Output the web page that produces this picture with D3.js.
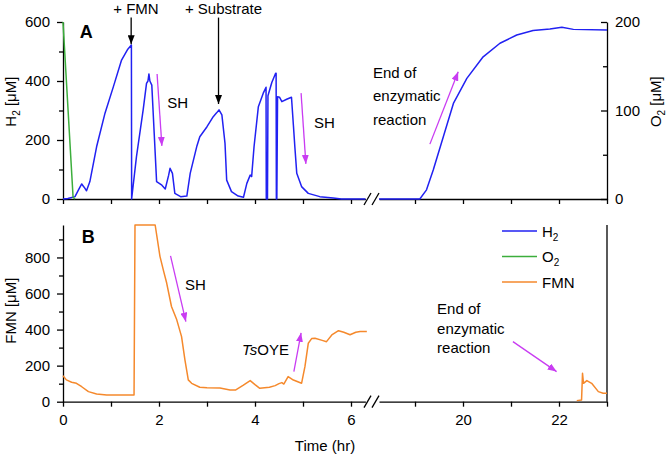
<!DOCTYPE html>
<html>
<head>
<meta charset="utf-8">
<script src="https://cdn.jsdelivr.net/npm/d3@7"></script>
<style>
  body { margin: 0; background: #fff; }
  text { font-family: "Liberation Sans", Arial, sans-serif; }
</style>
</head>
<body>
<svg id="chart" width="666" height="457"></svg>
<script>
// H2 in panel A, before and after the axis break (hr, µM)
const h2TimeLeft = [0, 0.1, 0.25, 0.32, 0.39, 0.44, 0.49, 0.56, 0.7, 0.875, 1.05, 1.22, 1.35, 1.425, 1.43,
  1.53, 1.67, 1.74, 1.77, 1.79, 1.81, 1.85, 1.9, 1.95, 2.06, 2.13, 2.2, 2.23, 2.28, 2.33, 2.45,
  2.58, 2.65, 2.79, 2.85, 3.0, 3.13, 3.2, 3.25, 3.31, 3.375, 3.41, 3.51, 3.65, 3.76,
  3.83, 3.9, 3.93, 3.98, 4.07, 4.17, 4.23, 4.235, 4.26, 4.27, 4.35, 4.43, 4.44, 4.445, 4.455, 4.47,
  4.51, 4.56, 4.66, 4.76, 4.8, 4.83, 4.87, 4.97, 5.11, 5.35, 5.63, 5.8, 6.3];
const h2Left = [0, 2, 8, 30, 51, 40, 28, 59, 177, 291, 381, 471, 508, 522, 0,
  143, 302, 392, 400, 424, 400, 386, 223, 59, 47, 34, 80, 104, 87, 19, 8,
  10, 87, 180, 211, 245, 279, 292, 302, 285, 189, 64, 25, 10, 6,
  53, 81, 76, 177, 313, 358, 379, 0, 0, 350, 395, 426, 426, 0, 0, 347,
  345, 330, 338, 345, 250, 177, 87, 42, 19, 8, 3, 0, 0];
const h2TimeRight = [18.25, 19.1, 19.24, 19.38, 19.59, 19.8, 20.08, 20.42, 20.77, 21.12, 21.46, 21.81, 22.06, 22.3, 23];
const h2Right = [0, 0, 31, 98, 211, 324, 409, 482, 528, 556, 571, 576, 582, 575, 573];

// O2 (right axis of panel A)
const o2Time = [0, 0.21, 0.25];
const o2Values = [200, 2, 0];

// FMN in panel B
const fmnTimeLeft = [0, 0.07, 0.18, 0.28, 0.39, 0.53, 0.7, 0.91, 1.46, 1.48, 1.5, 1.92,
  2.02, 2.1, 2.16, 2.26, 2.37, 2.47, 2.54, 2.61, 2.68, 2.85, 3.0, 3.27, 3.48, 3.6, 3.75, 3.9,
  4.0, 4.1, 4.3, 4.42, 4.5, 4.56, 4.6, 4.69, 4.8, 4.97, 5.04, 5.11, 5.18, 5.25, 5.4, 5.49,
  5.6, 5.74, 5.85, 5.98, 6.1, 6.19, 6.33];
const fmnLeft = [144, 121, 108, 102, 83, 56, 43, 37, 37, 37, 980, 980,
  806, 720, 658, 528, 454, 361, 232, 121, 102, 80, 78, 76, 65, 65, 90, 117,
  95, 74, 80, 89, 100, 106, 98, 139, 120, 102, 194, 324, 350, 352, 340, 333,
  370, 394, 385, 371, 385, 389, 389];
const fmnTimeRight = [22.37, 22.47, 22.49, 22.51, 22.58, 22.68, 22.82, 22.92, 23.0];
const fmnRight = [6, 10, 158, 102, 117, 102, 56, 47, 47];

// ticks
const xTicksLeft = [0, 1, 2, 3, 4, 5, 6];
const xTicksRight = [19, 20, 21, 22, 23];
const xLabelled = [0, 2, 4, 6, 20, 22];
const h2Ticks = [0, 100, 200, 300, 400, 500, 600];
const o2Ticks = [0, 50, 100, 150, 200];
const fmnTicks = [0, 100, 200, 300, 400, 500, 600, 700, 800, 900];

const blue = "#2121f2", green = "#3cae3c", orange = "#f5892c", magenta = "#c93cf2";

const svg = d3.select("#chart");

// broken time axis
const xLeft = d3.scaleLinear().domain([0, 6.3]).range([63, 365.4]);
const xRight = d3.scaleLinear().domain([18.25, 23]).range([379, 607]);
function x(t) { return t < 12 ? xLeft(t) : xRight(t); }

const yH2 = d3.scaleLinear().domain([0, 600]).range([199, 22]);
const yO2 = d3.scaleLinear().domain([0, 200]).range([199, 22]);
const yFmn = d3.scaleLinear().domain([0, 980]).range([401.7, 225]);

const defs = svg.append("defs");
function marker(id, color) {
  defs.append("marker")
    .attr("id", id)
    .attr("viewBox", "0 0 10 10")
    .attr("refX", 10).attr("refY", 5)
    .attr("markerUnits", "userSpaceOnUse")
    .attr("markerWidth", 9).attr("markerHeight", 7)
    .attr("preserveAspectRatio", "none")
    .attr("orient", "auto")
    .append("path").attr("d", "M0,0L10,5L0,10Z").attr("fill", color);
}
marker("headBlack", "#000");
marker("headMagenta", magenta);

function styleAxis(g) {
  g.attr("font-size", 15).attr("font-family", "Liberation Sans, Arial, sans-serif");
  g.selectAll("path, line").attr("stroke", "#000").attr("stroke-width", 1.3);
}

function xAxis(yPos, withLabels) {
  [[xLeft, xTicksLeft], [xRight, xTicksRight]].forEach(([sc, tv]) => {
    const g = svg.append("g")
      .attr("transform", "translate(0," + yPos + ")")
      .call(d3.axisBottom(sc).tickValues(tv).tickSize(5).tickSizeOuter(0).tickPadding(8)
        .tickFormat(d => withLabels && xLabelled.includes(d) ? d : ""));
    styleAxis(g);
  });
  // break marks
  [364, 372].forEach(bx => {
    svg.append("line")
      .attr("x1", bx).attr("y1", yPos + 6)
      .attr("x2", bx + 7).attr("y2", yPos - 6)
      .attr("stroke", "#000").attr("stroke-width", 1.3);
  });
}

function yAxisLeft(scale, ticks, every) {
  const g = svg.append("g")
    .attr("transform", "translate(63,0)")
    .call(d3.axisLeft(scale).tickValues(ticks).tickSize(6).tickSizeOuter(0).tickPadding(7)
      .tickFormat(d => d % every === 0 ? d : ""));
  styleAxis(g);
  g.selectAll(".tick").filter(d => d % every !== 0).select("line").attr("x2", -4);
  return g;
}

const line = (ys) => d3.line().x(d => x(d[0])).y(d => ys(d[1]));
function series(times, vals, ys, color) {
  svg.append("path")
    .datum(times.map((t, i) => [t, vals[i]]))
    .attr("d", line(ys))
    .attr("fill", "none")
    .attr("stroke", color)
    .attr("stroke-width", 1.5)
    .attr("stroke-linejoin", "round");
}

function arrow(x1, y1, x2, y2, color, head) {
  svg.append("line")
    .attr("x1", x1).attr("y1", y1).attr("x2", x2).attr("y2", y2)
    .attr("stroke", color).attr("stroke-width", 1.3)
    .attr("marker-end", "url(#" + head + ")");
}

function label(px, py, str, opts = {}) {
  return svg.append("text")
    .attr("x", px).attr("y", py)
    .attr("font-size", opts.size || 15)
    .attr("font-weight", opts.weight || "normal")
    .attr("text-anchor", opts.anchor || "start")
    .text(str);
}

function subLabel(sel, main, sub, rest) {
  sel.append("tspan").text(main);
  sel.append("tspan").attr("font-size", 10).attr("dy", 4).text(sub);
  sel.append("tspan").attr("dy", -4).text(rest);
}

// ---------- Panel A ----------
xAxis(199, false);
yAxisLeft(yH2, h2Ticks, 200);
const gO2 = svg.append("g")
  .attr("transform", "translate(607,0)")
  .call(d3.axisRight(yO2).tickValues(o2Ticks).tickSize(-6).tickSizeOuter(0).tickPadding(8)
    .tickFormat(d => d % 100 === 0 ? d : ""));
styleAxis(gO2);
gO2.selectAll(".tick").filter(d => d % 100 !== 0).select("line").attr("x2", -4);

series(h2TimeLeft, h2Left, yH2, blue);
series(h2TimeRight, h2Right, yH2, blue);
series(o2Time, o2Values, yO2, green);

const h2Lab = svg.append("text")
  .attr("transform", "translate(16," + yH2(330) + ") rotate(-90)")
  .attr("text-anchor", "middle").attr("font-size", 15);
subLabel(h2Lab, "H", "2", " [μM]");
const o2Lab = svg.append("text")
  .attr("transform", "translate(661," + yO2(110) + ") rotate(-90)")
  .attr("text-anchor", "middle").attr("font-size", 15);
subLabel(o2Lab, "O", "2", " [μM]");

label(xLeft(0.35), yH2(546), "A", { size: 18, weight: "bold" });

label(xLeft(1.52), yH2(626), "+ FMN", { anchor: "middle" });
arrow(xLeft(1.42), yH2(615), xLeft(1.42), yH2(525), "#000", "headBlack");
label(xLeft(2.54), yH2(626), "+ Substrate");
arrow(xLeft(3.24), yH2(615), xLeft(3.24), yH2(322), "#000", "headBlack");

arrow(xLeft(1.96), yH2(424), xLeft(2.06), yH2(180), magenta, "headMagenta");
label(xLeft(2.17), yH2(308), "SH");
arrow(xLeft(4.96), yH2(359), xLeft(5.06), yH2(119), magenta, "headMagenta");
label(xLeft(5.23), yH2(241), "SH");

label(xRight(18.125), yH2(410), "End of");
label(xRight(18.125), yH2(332), "enzymatic");
label(xRight(18.125), yH2(251), "reaction");
arrow(xRight(19.31), yH2(186), xRight(19.9), yH2(431), magenta, "headMagenta");

// ---------- Panel B ----------
xAxis(401.7, true);
yAxisLeft(yFmn, fmnTicks, 200);
svg.append("line")
  .attr("x1", 607).attr("x2", 607)
  .attr("y1", yFmn(0)).attr("y2", yFmn(980))
  .attr("stroke", "#000").attr("stroke-width", 1.3);

series(fmnTimeLeft, fmnLeft, yFmn, orange);
series(fmnTimeRight, fmnRight, yFmn, orange);

svg.append("text")
  .attr("transform", "translate(16," + yFmn(505) + ") rotate(-90)")
  .attr("text-anchor", "middle").attr("font-size", 15)
  .text("FMN [μM]");

label(xLeft(0.39), yFmn(882), "B", { size: 18, weight: "bold" });

arrow(xLeft(2.24), yFmn(809), xLeft(2.56), yFmn(444), magenta, "headMagenta");
label(xLeft(2.54), yFmn(621), "SH");

const ts = label(xLeft(3.73), yFmn(260), "");
ts.append("tspan").attr("font-style", "italic").text("Ts");
ts.append("tspan").text("OYE");
arrow(xLeft(4.81), yFmn(167), xLeft(4.96), yFmn(382), magenta, "headMagenta");

label(xRight(19.46), yFmn(487), "End of");
label(xRight(19.46), yFmn(376), "enzymatic");
label(xRight(19.46), yFmn(271), "reaction");
arrow(xRight(21.04), yFmn(333), xRight(21.95), yFmn(167), magenta, "headMagenta");

label(325, 451, "Time (hr)", { anchor: "middle" });

// legend
const legend = [["H", "2", blue], ["O", "2", green], ["FMN", "", orange]];
legend.forEach(([m, s, c], i) => {
  const ly = 231 + i * 25.5;
  svg.append("line")
    .attr("x1", 502).attr("x2", 537).attr("y1", ly).attr("y2", ly)
    .attr("stroke", c).attr("stroke-width", 1.5);
  const t = svg.append("text").attr("x", 542).attr("y", ly + 5.5).attr("font-size", 15);
  if (s) subLabel(t, m, s, ""); else t.text(m);
});
</script>
</body>
</html>
